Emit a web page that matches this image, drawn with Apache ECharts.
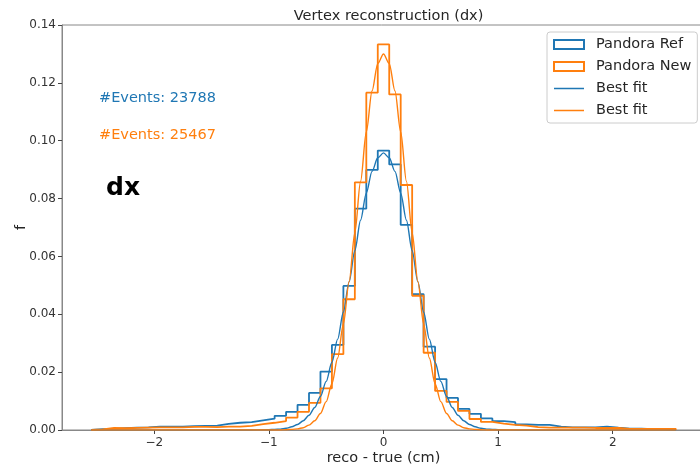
<!DOCTYPE html>
<html>
<head>
<meta charset="utf-8">
<script src="https://cdn.jsdelivr.net/npm/echarts@6/dist/echarts.min.js"></script>
<style>html,body{margin:0;padding:0;background:#fff;}#c{width:700px;height:466px;}</style>
</head>
<body>
<div id="c"></div>
<script>
// ---- data ----
const binStart = -2.55;
const binWidth = 0.1;
const refCounts = [
  0.0003, 0.0004, 0.0006, 0.0008, 0.0009, 0.0012, 0.0012, 0.0012, 0.0013, 0.0014,
  0.0015, 0.0021, 0.0025, 0.0027, 0.0033, 0.0039, 0.0049, 0.0063, 0.0087, 0.0128,
  0.0202, 0.0294, 0.0498, 0.0765, 0.0899, 0.0966, 0.0918, 0.0709, 0.0470, 0.0288,
  0.0176, 0.0111, 0.0073, 0.0056, 0.0040, 0.0031, 0.0027, 0.0019, 0.0018, 0.0018,
  0.0012, 0.0009, 0.0009, 0.0009, 0.0012, 0.0008, 0.0005, 0.0005, 0.0003, 0.0003,
  0.0002
];
const newCounts = [
  0.0002, 0.0007, 0.0006, 0.0007, 0.0008, 0.0009, 0.0009, 0.0009, 0.0011, 0.0011,
  0.0010, 0.0012, 0.0012, 0.0014, 0.0020, 0.0025, 0.0031, 0.0043, 0.0063, 0.0094,
  0.0144, 0.0262, 0.0452, 0.0856, 0.1166, 0.1333, 0.1160, 0.0847, 0.0464, 0.0267,
  0.0135, 0.0097, 0.0066, 0.0038, 0.0028, 0.0022, 0.0018, 0.0015, 0.0010, 0.0008,
  0.0008, 0.0008, 0.0008, 0.0007, 0.0007, 0.0007, 0.0004, 0.0004, 0.0004, 0.0004,
  0.0004
];
const fitX = [
  -2.55, -1.2, -1.0, -0.95, -0.9, -0.85, -0.8, -0.75, -0.7, -0.65, -0.6, -0.55, -0.5,
  -0.45, -0.4, -0.35, -0.3, -0.25, -0.2, -0.15, -0.1, -0.05, 0,
  0.05, 0.1, 0.15, 0.2, 0.25, 0.3, 0.35, 0.4, 0.45, 0.5, 0.55, 0.6, 0.65, 0.7,
  0.75, 0.8, 0.85, 0.9, 0.95, 1.0, 1.2, 2.55
];
const refFit = [
  0, 0, 0.0001, 0.0002, 0.0003, 0.0006, 0.0011, 0.0019, 0.0032, 0.0051, 0.0078, 0.0116, 0.0168,
  0.0234, 0.0314, 0.0408, 0.0512, 0.0620, 0.0725, 0.0819, 0.0894, 0.0941, 0.0958,
  0.0941, 0.0894, 0.0819, 0.0725, 0.0620, 0.0512, 0.0408, 0.0314, 0.0234, 0.0168, 0.0116, 0.0078, 0.0051, 0.0032,
  0.0019, 0.0011, 0.0006, 0.0003, 0.0002, 0.0001, 0, 0
];
const newFit = [
  0, 0, 0, 0, 0, 0.0001, 0.0002, 0.0004, 0.0008, 0.0017, 0.0032, 0.0057, 0.0098,
  0.0160, 0.0249, 0.0367, 0.0513, 0.0682, 0.0860, 0.1030, 0.1172, 0.1267, 0.1300,
  0.1267, 0.1172, 0.1030, 0.0860, 0.0682, 0.0513, 0.0367, 0.0249, 0.0160, 0.0098, 0.0057, 0.0032, 0.0017, 0.0008,
  0.0004, 0.0002, 0.0001, 0, 0, 0, 0, 0
];
const xTicks = [-2, -1, 0, 1, 2];
const refLabel = '#Events: 23788';
const newLabel = '#Events: 25467';

// ---- build ----
function stepPoints(counts) {
  const pts = [[binStart, 0]];
  counts.forEach(function (v, i) {
    const l = binStart + i * binWidth;
    pts.push([l, v], [l + binWidth, v]);
  });
  pts.push([binStart + counts.length * binWidth, 0]);
  return pts;
}
function zip(xs, ys) { return xs.map(function (x, i) { return [x, ys[i]]; }); }

const BLUE = '#1f77b4', ORANGE = '#ff7f0e';
const FONT = 'DejaVu Sans';
const linePath = 'path://M0,0 L0.01,0 L0.01,0.01 Z M0,3.8 L30,3.8 L30,5.2 L0,5.2 Z M29.99,8.99 L30,8.99 L30,9 Z';

const chart = echarts.init(document.getElementById('c'), null, { renderer: 'canvas' });
chart.setOption({
  animation: false,
  backgroundColor: '#fff',
  textStyle: { fontFamily: FONT },
  title: {
    text: 'Vertex reconstruction (dx)',
    left: 383.5, top: 4, textAlign: 'center',
    textStyle: { fontFamily: FONT, fontSize: 14.5, fontWeight: 'normal', color: '#262626' }
  },
  grid: { left: 62, right: -5, top: 25, bottom: 36, outerBoundsMode: 'none', containLabel: false, show: true, borderColor: '#888', borderWidth: 1, backgroundColor: 'transparent' },
  legend: {
    orient: 'vertical', left: 547, top: 32,
    padding: [4, 6, 4, 6],
    itemWidth: 30, itemHeight: 9, itemGap: 5,
    backgroundColor: 'rgba(255,255,255,0.8)', borderColor: '#ccc', borderWidth: 1, borderRadius: 3,
    textStyle: { fontFamily: FONT, fontSize: 14.5, color: '#262626', lineHeight: 17, padding: [0, 0, 0, 7] },
    data: [
      { name: 'Pandora Ref', icon: 'rect', itemStyle: { color: 'transparent', borderColor: BLUE, borderWidth: 2 } },
      { name: 'Pandora New', icon: 'rect', itemStyle: { color: 'transparent', borderColor: ORANGE, borderWidth: 2 } },
      { name: 'Best fit', icon: linePath, itemStyle: { color: BLUE, borderWidth: 0 } },
      { name: 'Best fit ', icon: linePath, itemStyle: { color: ORANGE, borderWidth: 0 } }
    ]
  },
  xAxis: {
    type: 'value', min: -2.805, max: 2.805,
    axisLine: { show: true, onZero: false, lineStyle: { color: '#888', width: 1 } },
    axisTick: { show: true, customValues: xTicks, length: 4, lineStyle: { color: '#444' } },
    axisLabel: {
      customValues: xTicks, fontSize: 12, color: '#333', margin: 7, fontFamily: FONT,
      formatter: function (v) { return v < 0 ? '\u2212' + Math.abs(v) : String(v); }
    },
    splitLine: { show: false },
    name: 'reco - true (cm)', nameLocation: 'middle', nameGap: 21, nameMoveOverlap: false,
    nameTextStyle: { fontFamily: FONT, fontSize: 14.5, color: '#262626' }
  },
  yAxis: {
    type: 'value', min: 0, max: 0.14, interval: 0.02,
    axisLine: { show: true, onZero: false, lineStyle: { color: '#888', width: 1 } },
    axisTick: { show: true, length: 4, lineStyle: { color: '#444' } },
    axisLabel: { fontSize: 12, color: '#333', margin: 6, fontFamily: FONT, formatter: function (v) { return v.toFixed(2); } },
    splitLine: { show: false },
    name: 'f', nameLocation: 'middle', nameGap: 33, nameMoveOverlap: false,
    nameTextStyle: { fontFamily: FONT, fontSize: 14.5, color: '#262626' }
  },
  graphic: [
    { type: 'text', left: 99, top: 91, style: { text: refLabel, fill: BLUE, font: '14.5px "DejaVu Sans"' } },
    { type: 'text', left: 99, top: 128, style: { text: newLabel, fill: ORANGE, font: '14.5px "DejaVu Sans"' } },
    { type: 'text', left: 106, top: 176, style: { text: 'dx', fill: '#000', font: 'bold 25px "DejaVu Sans"' } }
  ],
  series: [
    { name: 'Pandora Ref', type: 'line', data: stepPoints(refCounts), symbol: 'none', lineStyle: { color: BLUE, width: 1.8 }, itemStyle: { color: BLUE }, z: 2 },
    { name: 'Pandora New', type: 'line', data: stepPoints(newCounts), symbol: 'none', lineStyle: { color: ORANGE, width: 1.8 }, itemStyle: { color: ORANGE }, z: 3 },
    { name: 'Best fit', type: 'line', data: zip(fitX, refFit), symbol: 'none', smooth: 0.3, smoothMonotone: 'x', lineStyle: { color: BLUE, width: 1.4 }, itemStyle: { color: BLUE }, z: 4 },
    { name: 'Best fit ', type: 'line', data: zip(fitX, newFit), symbol: 'none', smooth: 0.3, smoothMonotone: 'x', lineStyle: { color: ORANGE, width: 1.4 }, itemStyle: { color: ORANGE }, z: 5 }
  ]
});
</script>
</body>
</html>
